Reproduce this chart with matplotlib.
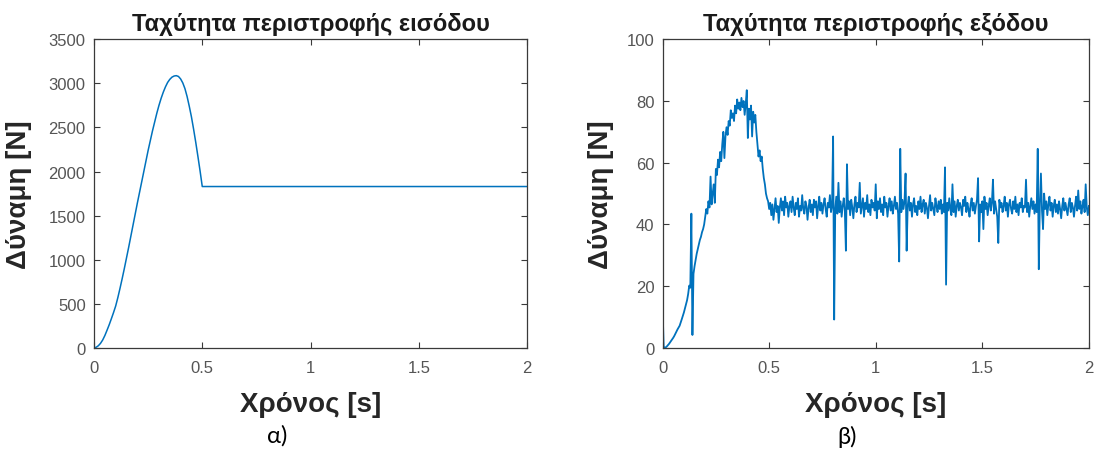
import numpy as np
import matplotlib
matplotlib.use("Agg")
import matplotlib.pyplot as plt

# ---- input force: sampled curve (time in s, force in N) ----
t_in = [0.00, 0.01, 0.02, 0.03, 0.04, 0.05, 0.06, 0.07, 0.08, 0.09,
        0.10, 0.11, 0.12, 0.13, 0.14, 0.15, 0.16, 0.17, 0.18, 0.19,
        0.20, 0.21, 0.22, 0.23, 0.24, 0.25, 0.26, 0.27, 0.28, 0.29,
        0.30, 0.31, 0.32, 0.33, 0.34, 0.35, 0.36, 0.37, 0.38, 0.39,
        0.40, 0.41, 0.42, 0.43, 0.44, 0.45, 0.46, 0.47, 0.48, 0.49,
        0.50, 2.00]
f_in = [0, 8, 25, 52, 90, 140, 200, 262, 330, 400,
        475, 570, 675, 785, 900, 1020, 1140, 1265, 1390, 1515,
        1640, 1760, 1880, 2000, 2120, 2240, 2350, 2460, 2560, 2660,
        2750, 2830, 2900, 2960, 3010, 3045, 3070, 3083, 3087, 3078,
        3050, 3005, 2940, 2850, 2740, 2620, 2480, 2330, 2170, 2005,
        1830, 1830]

# ---- output force: measured signal, 5 ms sampling ----
dt_out = 0.005
f_out = [
    13, 0.5, 0.0, 0.2, 0.5, 0.9, 1.3, 1.8, 2.3, 2.8, 3.3, 3.9, 4.6, 5.3, 6.0, 6.6, 7.2, 8.2, 9.3, 10.4,
    11.5, 12.8, 14.2, 15.5, 17.5, 20.2, 19.5, 43.5, 4.2, 24, 26.5, 28.5, 30.5, 32, 33.5, 35, 36, 37.5, 38.5, 40,
    42.5, 45, 43.5, 47.5, 45.5, 55.5, 46.5, 50, 53, 47, 58, 56, 61, 58.5, 63.5, 60.5, 66, 70, 61.5, 68.5,
    71.5, 69, 73.5, 72, 77, 74.5, 76, 73.5, 78.5, 76, 80.5, 77.5, 79.5, 77, 81, 78, 80, 75.5, 79, 83.5,
    68, 77.5, 74, 78.5, 68.5, 76.5, 73, 75.5, 70, 66, 62, 64, 60.5, 62, 58, 55, 53, 50, 48.5, 47.5,
    45, 47, 43, 46.5, 41.5, 45, 48.5, 44, 46, 40.5, 45.5, 48.5, 44.5, 47.5, 43, 49, 45.5, 47, 42.5, 46,
    47.5, 44, 49, 45.5, 43, 47, 45, 48.5, 42.5, 46, 44.5, 49.5, 45, 43.5, 47.5, 46, 41.5, 45.5, 48, 44,
    46.5, 43, 48, 45.5, 47.5, 42, 46, 49, 44.5, 47, 43.5, 46.5, 48.5, 45, 42.5, 47, 45.5, 49.5, 44, 46,
    68.5, 9.2, 45, 49, 43.5, 53.5, 44, 47.5, 42.5, 46, 48.5, 44.5, 31.5, 59.5, 45, 47.5, 43, 48, 45.5, 42,
    46.5, 49, 44, 47, 45.5, 53.5, 43.5, 46, 48.5, 42.5, 47, 45, 49.5, 44, 46.5, 43, 48, 45.5, 47, 44.5,
    53, 42, 47.5, 45, 48.5, 44, 46.5, 43, 49, 45.5, 47, 42.5, 46, 48.5, 44.5, 47.5, 43.5, 46, 49, 45,
    47, 43.5, 28, 64.5, 44, 48, 45, 47.5, 56.5, 31.5, 46, 49, 44.5, 47, 42.5, 46.5, 48.5, 44, 46, 43,
    47.5, 45, 49, 44, 46.5, 48, 43.5, 47, 45.5, 42, 46, 49.5, 44.5, 47, 45, 43, 48.5, 46, 44, 47.5,
    45, 48, 43.5, 46.5, 44, 58.5, 20.5, 47, 44.5, 48.5, 45, 43, 53, 44, 47.5, 42.5, 46, 48, 44.5, 47,
    45.5, 43, 48, 46, 49, 44, 47, 45, 42.5, 46.5, 48.5, 44.5, 47, 43.5, 46, 48, 55, 34.5, 46.5, 44,
    47.5, 38.5, 49, 45, 47, 43, 46, 48.5, 44.5, 47, 54.5, 43.5, 47.5, 45, 42.5, 34, 48, 45.5, 47, 44,
    46, 49, 44.5, 47, 42.5, 46.5, 48, 45, 43.5, 47.5, 45, 49, 44, 46.5, 43, 47, 45.5, 48.5, 44, 46,
    45.5, 54.5, 44, 47, 42.5, 46, 48.5, 45, 47.5, 43.5, 46.5, 44, 64.5, 25.5, 47, 56.5, 44.5, 38.5, 50, 45,
    47.5, 43, 46.5, 49, 44.5, 47, 42.5, 46, 48, 44, 46.5, 43.5, 47.5, 45, 42, 46, 48.5, 44.5, 47, 45,
    43, 46.5, 48.5, 44, 47, 45.5, 42.5, 46, 49, 44.5, 51, 45, 47.5, 43.5, 46, 48, 44, 53, 45.5, 43,
    46,
]
t_out = np.arange(len(f_out)) * dt_out

# ---- text ----
titles = ["Ταχύτητα περιστροφής εισόδου", "Ταχύτητα περιστροφής εξόδου"]
xlabel = "Χρόνος [s]"
ylabel = "Δύναμη [N]"
captions = ["α)", "β)"]
x_ticks = [0, 0.5, 1, 1.5, 2]
x_ticklabels = ["0", "0.5", "1", "1.5", "2"]
y_ticks_in = [0, 500, 1000, 1500, 2000, 2500, 3000, 3500]
y_ticks_out = [0, 20, 40, 60, 80, 100]

line_color = "#0072BD"
axis_color = "#3a3a3a"
tick_color = "#555555"

plt.rcParams["font.family"] = ["Liberation Sans", "DejaVu Sans"]

fig = plt.figure(figsize=(10.97, 4.52), dpi=100)
ax1 = fig.add_axes([0.0857, 0.228, 0.3947, 0.683])
ax2 = fig.add_axes([0.604, 0.228, 0.3886, 0.683])

ax1.plot(t_in, f_in, color=line_color, lw=1.1)
ax2.plot(t_out, f_out, color=line_color, lw=1.3)

for ax, title, yt, ylim, ypad in [(ax1, titles[0], y_ticks_in, 3500, 12),
                                  (ax2, titles[1], y_ticks_out, 100, 9)]:
    ax.set_xlim(0, 2)
    ax.set_ylim(0, ylim)
    ax.set_xticks(x_ticks)
    ax.set_xticklabels(x_ticklabels)
    ax.set_yticks(yt)
    ax.tick_params(direction="in", length=4, width=0.8, top=True, right=True,
                   colors=axis_color, labelcolor=tick_color, labelsize=12)
    ax.tick_params(axis="x", pad=9)
    ax.tick_params(axis="y", pad=6)
    for s in ax.spines.values():
        s.set_color(axis_color)
        s.set_linewidth(0.9)
    ax.set_title(title, fontsize=17, fontweight="bold", color="#1a1a1a", pad=7)
    ax.set_xlabel(xlabel, fontsize=20, fontweight="bold", color="#262626", labelpad=11)
    ax.set_ylabel(ylabel, fontsize=20, fontweight="bold", color="#262626", labelpad=ypad)

fig.text(277 / 1097, 1 - 436 / 452, captions[0], fontsize=17, family=["Lato", "DejaVu Sans"],
         ha="center", va="center", color="black")
fig.text(847 / 1097, 1 - 437 / 452, captions[1], fontsize=17, family=["Lato", "DejaVu Sans"],
         ha="center", va="center", color="black")

fig.savefig("out.png", dpi=100, facecolor="white")
